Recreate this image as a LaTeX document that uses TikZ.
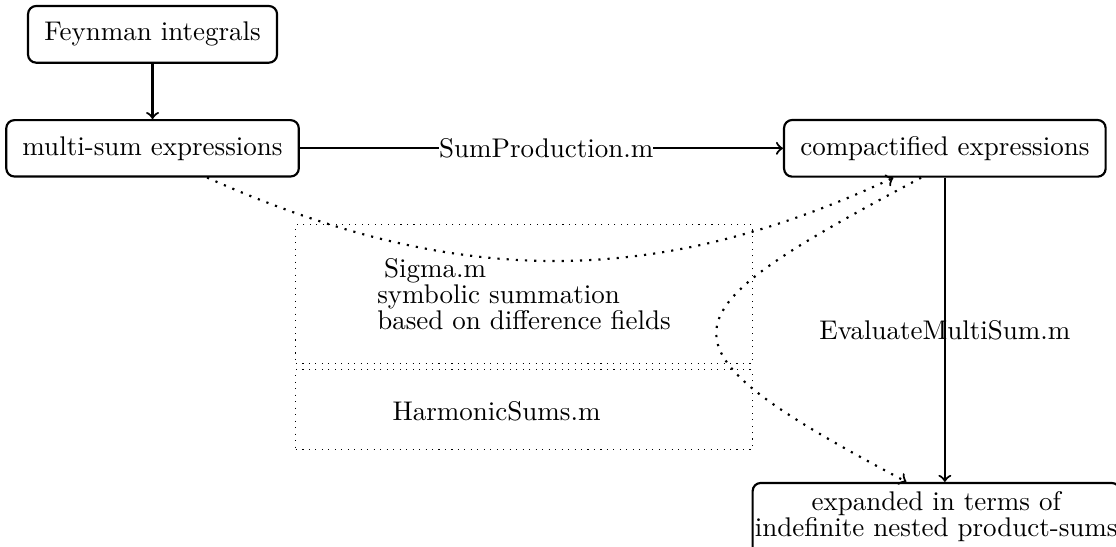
\documentclass[tikz,border=0pt]{standalone}
\usepackage{tikz}
\usetikzlibrary{positioning}

\begin{document}
\begin{tikzpicture}[
    font=\fontsize{10pt}{9.6pt}\selectfont,
    box/.style={rectangle, draw, thick, rounded corners=3pt, inner xsep=6pt, inner ysep=6pt},
    tool/.style={rectangle, draw, dotted, minimum width=5.94cm},
    flow/.style={->, thick},
    link/.style={->, line width=0.8pt, dash pattern=on 0.8pt off 2.6pt}
]
\useasboundingbox (0,0) rectangle (14.53,7.12);

% main chain
\node[box] (feyn) at (1.986,6.673) {Feynman integrals};
\node[box, below=0.72cm of feyn] (multi) {multi-sum expressions};
\node[box, right=6.29cm of multi] (compact) {compactified expressions};
\node[box, anchor=north west, inner xsep=0.3pt, inner ysep=3.3pt, text width=4.76cm, text depth=15pt, align=center] (expanded) at (9.785,0.846)
    {expanded in terms of\\indefinite nested product-sums};

% packages
\node[tool, minimum height=1.81cm, align=left] (sigma) at (6.823,3.288)
    {\hspace{2.5pt}Sigma.m\\symbolic summation\\based on difference fields};
\node[tool, minimum height=1.04cm] (harmonic) at (6.823,1.784) {};
\node (harmonictext) at (6.465,1.77) {HarmonicSums.m};

% arrows
\draw[flow] (feyn) -- (multi);
\draw[flow] (multi) -- (compact) node[pos=0.51, fill=white, inner sep=0pt] {SumProduction.m};
\draw[flow] (compact) -- (compact |- expanded.north) node[midway] {EvaluateMultiSum.m};

\draw[link] ([xshift=0.71cm]multi.south) to[out=-24, in=-155] ([xshift=-0.67cm]compact.south);
\draw[link] ([xshift=-0.31cm]compact.south) to[out=208, in=152, looseness=2.5] ([xshift=-0.5cm]compact.south |- expanded.north);
\end{tikzpicture}
\end{document}
